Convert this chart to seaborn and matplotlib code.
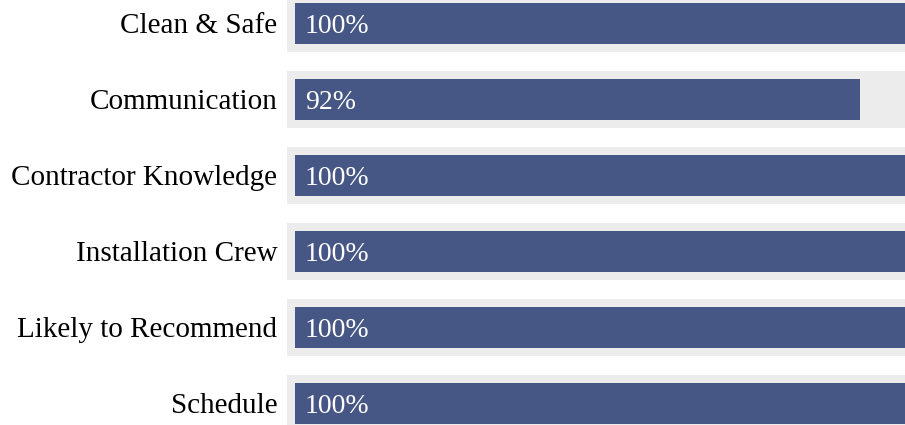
import pandas as pd
import seaborn as sns
import numpy as np
import matplotlib.pyplot as plt

# survey scores (percent)
categories = ["Clean & Safe", "Communication", "Contractor Knowledge",
              "Installation Crew", "Likely to Recommend", "Schedule"]
scores = [100, 92, 100, 100, 100, 100]
track_max = [100, 100, 100, 100, 100, 100]

bar_color = "#475785"
track_color = "#ececec"

sns.set_style("white")
plt.rcParams['font.family'] = ['Liberation Serif', 'DejaVu Serif']

df = pd.DataFrame({"category": categories, "score": scores, "track": track_max})

fig = plt.figure(figsize=(9.05, 4.25), dpi=100)
# axes spans from the track start to beyond the right edge (bars are clipped)
ax = fig.add_axes([287 / 905, 0, 622 / 905, 1])

# grey background tracks, starting slightly left of zero
ax.barh(np.arange(len(categories)), df["track"] + 1.3, left=-1.3,
        height=0.75, color=track_color, linewidth=0, zorder=1)

sns.barplot(data=df, y="category", x="score", orient="h", color=bar_color,
            width=0.54, saturation=1, linewidth=0, ax=ax, zorder=2)

for i, v in enumerate(df["score"]):
    ax.text(1.6, i, f"{v}%", color="white", fontsize=20, va="center_baseline",
            ha="left", zorder=3)

ax.set_xlim(-1.3, 100)
ax.set_ylim(5.283, -0.309)
ax.set_xlabel("")
ax.set_ylabel("")
ax.set_xticks([])
ax.tick_params(axis="y", length=0, pad=7, labelsize=21, labelcolor="black")
sns.despine(ax=ax, left=True, bottom=True, top=True, right=True)

fig.savefig("out.png", dpi=100)
